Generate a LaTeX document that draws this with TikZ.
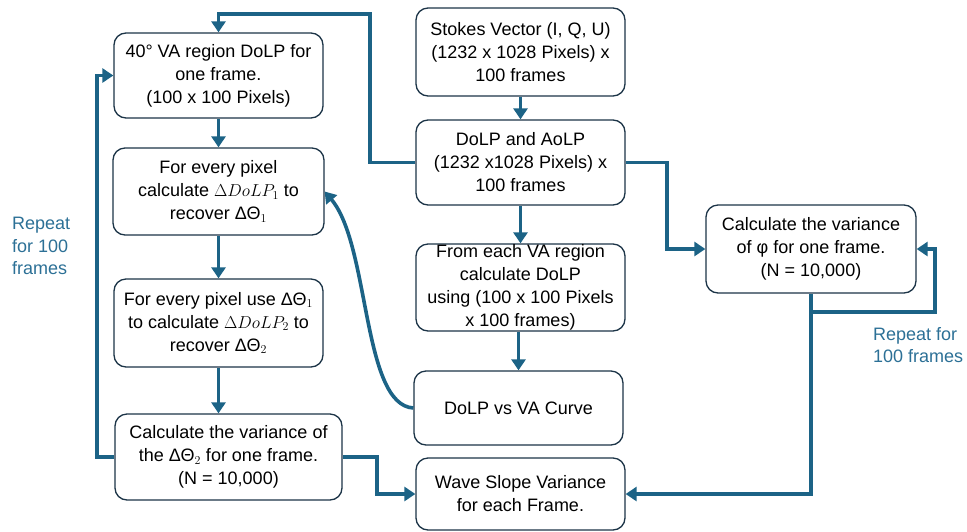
\documentclass[tikz,border=0pt]{standalone}
\usepackage{fontspec}
\setmainfont{Liberation Sans}
\usetikzlibrary{arrows.meta,calc}
\definecolor{flowteal}{HTML}{1C6386}
\definecolor{labelteal}{HTML}{2C7096}
\definecolor{boxline}{HTML}{1C3447}
\begin{document}
\begin{tikzpicture}[x=1pt,y=-1pt,
  stepbox/.style={draw=boxline,line width=1.3pt,rounded corners=12pt,fill=white,
    align=center,inner sep=0pt,font=\fontsize{18}{23}\selectfont,text=black},
  arr/.style={draw=flowteal,line width=3.6pt,-{Triangle[width=14pt,length=11pt]}},
  note/.style={align=left,text=labelteal,font=\fontsize{18}{22.5}\selectfont,inner sep=0pt}]
\useasboundingbox (0,0) rectangle (967,531);

% left column
\node[stepbox,minimum width=209pt,minimum height=85pt] (A) at (218.5,75.5)
  {40° VA region DoLP for\\one frame.\\(100 x 100 Pixels)};
\node[stepbox,minimum width=211pt,minimum height=87pt] (B) at (218.5,191.5)
  {For every pixel\\calculate \(\Delta DoLP_1\) to\\recover ΔΘ\(_1\)};
\node[stepbox,minimum width=209pt,minimum height=88pt] (C) at (218.5,323)
  {For every pixel use ΔΘ\(_1\)\\to calculate \(\Delta DoLP_2\) to\\recover ΔΘ\(_2\)};
\node[stepbox,minimum width=227pt,minimum height=86pt] (D) at (228.5,457)
  {Calculate the variance of\\the ΔΘ\(_2\) for one frame.\\(N = 10,000)};

% middle column
\node[stepbox,minimum width=209pt,minimum height=88pt] (E) at (520.5,52)
  {Stokes Vector (I, Q, U)\\(1232 x 1028 Pixels) x\\100 frames};
\node[stepbox,minimum width=209pt,minimum height=85pt] (F) at (520.5,162.5)
  {DoLP and AoLP\\(1232 x1028 Pixels) x\\100 frames};
\node[stepbox,minimum width=209pt,minimum height=87pt] (G) at (520.5,287.5)
  {From each VA region\\calculate DoLP\\using (100 x 100 Pixels\\x 100 frames)};
\node[stepbox,minimum width=209pt,minimum height=74pt] (H) at (518.5,408)
  {DoLP vs VA Curve};
\node[stepbox,minimum width=209pt,minimum height=72pt] (I) at (520.5,494)
  {Wave Slope Variance\\for each Frame.};

% right column
\node[stepbox,minimum width=210pt,minimum height=88pt] (J) at (811,249)
  {Calculate the variance\\of φ for one frame.\\(N = 10,000)};

% loop labels
\node[note,anchor=north west] (rl) at (12,217) {Repeat\\for 100\\frames};
\node[note,anchor=north west] (rr) at (873,327) {Repeat for\\100 frames};

% bend points
\coordinate (topbend) at (370,14);
\coordinate (leftbend) at (97,75.5);
\coordinate (lowbend) at (377,494);
\coordinate (rightbend) at (667,249);
\coordinate (loopstart) at (811,312);
\coordinate (loopbend) at (935,249);

% straight flow
\draw[arr] (E) -- (F);
\draw[arr] (F) -- (G);
\draw[arr] (G.south -| H.north) -- (H.north);
\draw[arr] (A) -- (B);
\draw[arr] (B) -- (C);
\draw[arr] (C.south) -- (C.south |- D.north);

% routed connectors
\draw[arr] (F.west) -| (topbend) -| (A.north);
\draw[arr] (D.west) -| (leftbend) -- (A.west);
\draw[arr] (D.east) -| (lowbend) -- (I.west);
\draw[arr] (F.east) -| (rightbend) -- (J.west);
\draw[arr] (J.south) |- (I.east);
\draw[arr] (loopstart) -| (loopbend) -- (J.east);
\draw[arr] (H.west) .. controls (362,405) and (370,245) .. (B.east);
\end{tikzpicture}
\end{document}
